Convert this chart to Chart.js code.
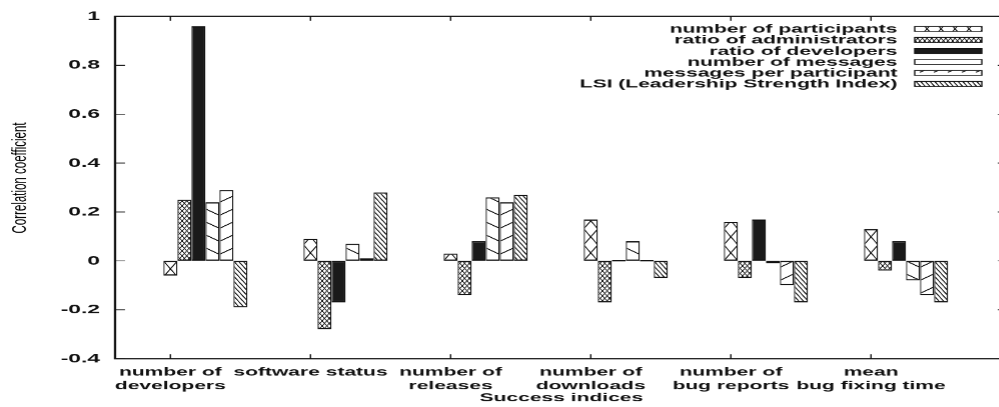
<!DOCTYPE html>
<html>
<head>
<meta charset="utf-8">
<script src="https://cdn.jsdelivr.net/npm/chart.js@4.4.1/dist/chart.umd.min.js"></script>
<style>
  html, body { margin: 0; padding: 0; background: #fff; overflow: hidden; width: 999px; height: 407px; }
  #chart { display: block; transform: scaleX(1.75); transform-origin: 0 0; }
</style>
</head>
<body>
<canvas id="chart" width="577" height="407"></canvas>
<script>
// the original plot is stretched sideways, so we draw narrow and widen it with css
const STRETCH = 1.75

const CATEGORIES = [
  ["number of", "developers"],
  ["software status"],
  ["number of", "releases"],
  ["number of", "downloads"],
  ["number of", "bug reports"],
  ["mean", "bug fixing time"]
]

const SERIES_NAMES = [
  "number of participants",
  "ratio of administrators",
  "ratio of developers",
  "number of messages",
  "messages per participant",
  "LSI (Leadership Strength Index)"
]

const PARTICIPANTS   = [-0.06,  0.09,  0.03,  0.17,  0.16,  0.13]
const ADMINISTRATORS = [ 0.25, -0.28, -0.14, -0.17, -0.07, -0.04]
const DEVELOPERS     = [ 0.96, -0.17,  0.08,  0.00,  0.17,  0.08]
const MESSAGES       = [ 0.24,  0.07,  0.26,  0.08, -0.01, -0.08]
const MSG_PER_PART   = [ 0.29,  0.01,  0.24,  0.00, -0.10, -0.14]
const LSI            = [-0.19,  0.28,  0.27, -0.07, -0.17, -0.17]

const SERIES = [PARTICIPANTS, ADMINISTRATORS, DEVELOPERS, MESSAGES, MSG_PER_PART, LSI]

const Y_TICKS = [-0.4, -0.2, 0, 0.2, 0.4, 0.6, 0.8, 1]
const Y_TICK_LABELS = ["-0.4", "-0.2", "0", "0.2", "0.4", "0.6", "0.8", "1"]

const CAT_PCT = 0.6
// gnuplot put each tic under the first bar of the cluster
const SHIFT = 2.5 * CAT_PCT / SERIES.length

const FONT = "'Liberation Sans', Arial, Helvetica, sans-serif"
const INK = "#111"

// hatch fills, built from a small tile
const R = 6
function hatch(w, h, lw, segs) {
  const c = document.createElement("canvas")
  c.width = Math.round(w * R)
  c.height = Math.round(h * R)
  const g = c.getContext("2d")
  g.fillStyle = "#fff"
  g.fillRect(0, 0, c.width, c.height)
  g.scale(c.width / w, c.height / h)
  g.strokeStyle = INK
  g.lineWidth = lw
  g.beginPath()
  for (const dx of [-w, 0, w]) {
    for (const dy of [-h, 0, h]) {
      for (const [x1, y1, x2, y2] of segs) {
        g.moveTo(x1 + dx, y1 + dy)
        g.lineTo(x2 + dx, y2 + dy)
      }
    }
  }
  g.stroke()
  return { pat: g.createPattern(c, "repeat"), sx: c.width / w, sy: c.height / h }
}

const small = 8 / 3
const PATTERNS = [
  hatch(8, 16, 0.7, [[0, 0, 8, 16], [8, 0, 0, 16]]),
  hatch(small, 5, 0.55, [[0, 0, small, 5], [small, 0, 0, 5]]),
  null,
  hatch(8, 13, 0.85, [[0, 0, 8, 6.5]]),
  hatch(8, 13, 0.85, [[0, 6.5, 8, 0]]),
  hatch(small, 5, 0.7, [[0, 0, small, 5]])
]
const FILLS = PATTERNS.map(p => p ? p.pat : "#1a1a1a")

const patternAlign = {
  id: "patternAlign",
  beforeDatasetsDraw(chart) {
    const { x, y } = chart.scales
    const step = x.getPixelForValue(1) - x.getPixelForValue(0)
    const ox = x.getPixelForValue(0) - step * CAT_PCT / 2
    const oy = y.getPixelForValue(0)
    PATTERNS.forEach(p => {
      if (p) p.pat.setTransform(new DOMMatrix().translate(ox, oy).scale(1 / p.sx, 1 / p.sy))
    })
  }
}

const frame = {
  id: "frame",
  afterDatasetsDraw(chart) {
    const { ctx, chartArea: a, scales: { x, y } } = chart
    ctx.save()
    ctx.strokeStyle = INK
    ctx.lineWidth = 0.8
    ctx.beginPath()
    y.ticks.forEach(t => {
      const py = y.getPixelForValue(t.value)
      ctx.moveTo(a.left, py); ctx.lineTo(a.left + 5.7, py)
      ctx.moveTo(a.right, py); ctx.lineTo(a.right - 5.7, py)
    })
    x.ticks.forEach(t => {
      const px = x.getPixelForValue(t.value)
      ctx.moveTo(px, a.bottom); ctx.lineTo(px, a.bottom - 4.5)
      ctx.moveTo(px, a.top); ctx.lineTo(px, a.top + 4.5)
    })
    ctx.stroke()
    ctx.lineWidth = 1.3
    ctx.strokeRect(a.left, a.top, a.right - a.left, a.bottom - a.top)
    ctx.restore()
  }
}

// key in the top right corner, text first then the sample box
const legendKeys = {
  id: "legendKeys",
  afterDraw(chart) {
    const { ctx, chartArea: a } = chart
    ctx.save()
    ctx.font = "bold 12px " + FONT
    ctx.textAlign = "right"
    ctx.textBaseline = "middle"
    ctx.strokeStyle = INK
    ctx.lineWidth = 0.8
    chart.data.datasets.forEach((ds, i) => {
      const cy = a.top + 12.5 + i * 11
      ctx.fillStyle = INK
      ctx.fillText(ds.label, a.right - 63, cy + 0.5)
      ctx.fillStyle = ds.backgroundColor
      ctx.fillRect(a.right - 53.1, cy - 2.5, 38.3, 5)
      ctx.strokeRect(a.right - 53.1, cy - 2.5, 38.3, 5)
    })
    ctx.restore()
  }
}

new Chart(document.getElementById("chart"), {
  type: "bar",
  data: {
    datasets: SERIES.map((vals, i) => ({
      label: SERIES_NAMES[i],
      data: vals.map((v, k) => ({ x: k, y: v })),
      backgroundColor: FILLS[i],
      borderColor: INK,
      borderWidth: { top: 1.3, bottom: 1.3, left: 0.75, right: 0.75 },
      borderSkipped: false,
      minBarLength: 1.4,
      categoryPercentage: CAT_PCT,
      barPercentage: 1
    }))
  },
  options: {
    responsive: false,
    animation: false,
    events: [],
    devicePixelRatio: STRETCH,
    layout: { padding: { top: 12, right: 1.6, bottom: 0, left: 0 } },
    plugins: {
      legend: { display: false },
      tooltip: { enabled: false }
    },
    scales: {
      x: {
        type: "linear",
        offset: false,
        min: -0.645,
        max: 5.726,
        afterBuildTicks: s => { s.ticks = CATEGORIES.map((_, k) => ({ value: k - SHIFT })) },
        afterFit: s => { s.height = 48.5 },
        grid: { display: false, drawTicks: false, offset: false },
        border: { display: false },
        ticks: {
          autoSkip: false,
          maxRotation: 0,
          minRotation: 0,
          padding: 6.5,
          color: INK,
          font: { family: FONT, size: 12, weight: "bold", lineHeight: 1.17 },
          callback: (v, i) => CATEGORIES[i]
        },
        title: {
          display: true,
          text: "Success indices",
          color: INK,
          font: { family: FONT, size: 12, weight: "bold", lineHeight: 1.2 },
          padding: { top: 0, bottom: 2 }
        }
      },
      y: {
        min: -0.4,
        max: 1,
        afterBuildTicks: s => { s.ticks = Y_TICKS.map(v => ({ value: v })) },
        afterFit: s => { s.width = 65.7 },
        grid: { display: false, drawTicks: false },
        border: { display: false },
        ticks: {
          padding: 8.6,
          color: INK,
          font: { family: FONT, size: 13, weight: "bold" },
          callback: (v, i) => Y_TICK_LABELS[i]
        },
        title: {
          display: true,
          // leading blanks nudge the label a little above the axis middle, as in the original
          text: "\u00a0\u00a0\u00a0\u00a0\u00a0\u00a0Correlation coefficient",
          color: "#000",
          font: { family: FONT, size: 11.5, weight: "normal", lineHeight: 1.2 },
          padding: { top: 4.5, bottom: 0 }
        }
      }
    }
  },
  plugins: [patternAlign, frame, legendKeys]
})
</script>
</body>
</html>
